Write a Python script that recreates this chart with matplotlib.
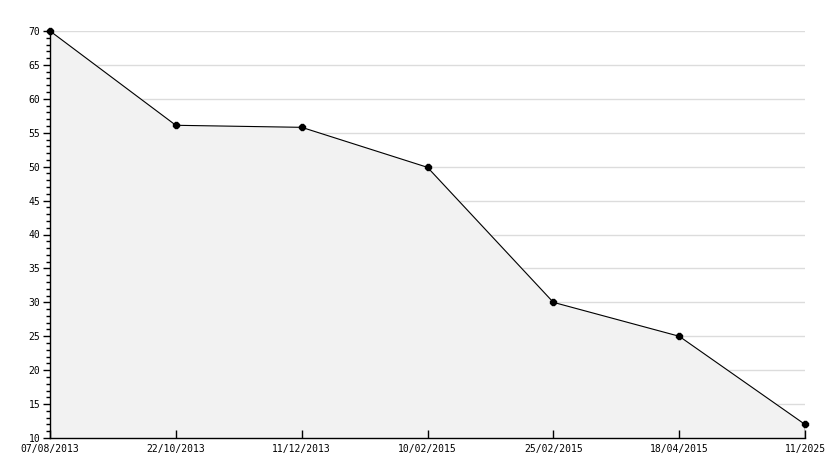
import numpy as np
import matplotlib.pyplot as plt
from matplotlib.ticker import MultipleLocator

# Date
labels = ['07/08/2013', '22/10/2013', '11/12/2013', '10/02/2015',
          '25/02/2015', '18/04/2015', '11/2025']
values = [70, 56.1, 55.8, 49.9, 30, 25, 12]

fig = plt.figure(figsize=(8.34, 4.68), dpi=100)
ax = fig.add_axes([50 / 834, 30 / 468, 755 / 834, 407 / 468])

x = np.arange(len(values))

ax.fill_between(x, values, 10, color='#f2f2f2', zorder=1)
ax.plot(x, values, color='black', linewidth=0.8, marker='8', markersize=4, zorder=3,
        clip_on=False)
ax.plot([x[-1], x[-1]], [10, values[-1]], color='black', linewidth=1, zorder=2)

ax.set_xlim(0, len(values) - 1)
ax.set_ylim(10, 70)

for y in range(15, 71, 5):
    ax.axhline(y, color='#dcdcdc', linewidth=1, zorder=0)

ax.yaxis.set_major_locator(MultipleLocator(5))
ax.yaxis.set_minor_locator(MultipleLocator(1))
ax.set_xticks(x)
ax.set_xticklabels(labels)

ax.tick_params(axis='y', which='major', direction='out', length=5, width=1,
               labelsize=7, pad=2)
ax.tick_params(axis='y', which='minor', direction='out', length=3, width=1)
ax.tick_params(axis='x', direction='in', length=6, width=1, labelsize=7, pad=4)

for lbl in ax.get_xticklabels() + ax.get_yticklabels():
    lbl.set_family('DejaVu Sans Mono')

ax.spines['top'].set_visible(False)
ax.spines['right'].set_visible(False)
ax.spines['left'].set_linewidth(1)
ax.spines['bottom'].set_linewidth(1)
ax.set_facecolor('white')

fig.savefig('out.png', dpi=100)
